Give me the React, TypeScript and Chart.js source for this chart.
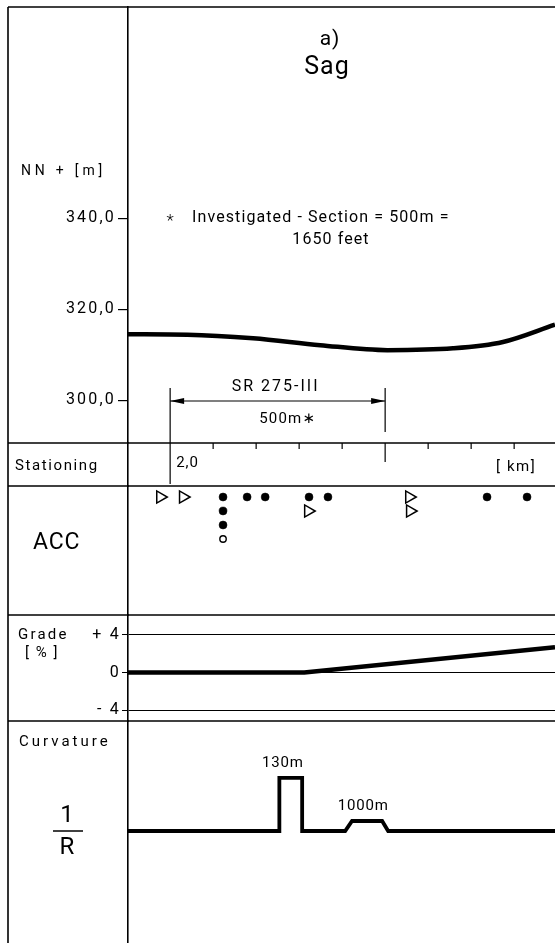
import React, { useEffect, useRef } from 'react';
import { Chart, registerables } from 'chart.js';

Chart.register(...registerables);

// ---- data (stationing in km) ----
const X_MIN = 1.902;
const X_MAX = 2.895;

const PROFILE_KM = [1.902, 2.04, 2.193, 2.349, 2.505, 2.658, 2.774, 2.895];
const PROFILE_ELEV = [314.5, 314.4, 313.6, 312.1, 311.0, 311.4, 312.8, 316.6];
const ELEV_TICKS = [300, 320, 340];

const STATION_TICKS = [2.0, 2.1, 2.2, 2.3, 2.4, 2.5, 2.6, 2.7, 2.8];
const SECTION_KM = [2.0, 2.5];

const ACC_TRI_KM = [1.977, 2.03, 2.321, 2.556, 2.558];
const ACC_TRI_ROW = [1, 1, 2, 1, 2];
const ACC_DOT_KM = [2.123, 2.179, 2.221, 2.323, 2.367, 2.737, 2.83, 2.123, 2.123];
const ACC_DOT_ROW = [1, 1, 1, 1, 1, 1, 1, 2, 3];
const ACC_RING_KM = [2.123];
const ACC_RING_ROW = [4];

const GRADE_KM = [1.902, 2.312, 2.895];
const GRADE_PCT = [0, 0, 2.7];
const GRADE_TICKS = [-4, 0, 4];

const CURV_KM = [1.902, 2.254, 2.254, 2.307, 2.307, 2.407, 2.423, 2.493, 2.507, 2.895];
const CURV_VAL = [0, 0, 8.5, 8.5, 0, 0, 1.6, 1.6, 0, 0];
const CURV_LABELS = ['130m', '1000m'];
const CURV_LABEL_KM = [2.262, 2.449];
const CURV_LABEL_VAL = [8.5, 1.6];

const FAMILY = 'Roboto, "DejaVu Sans", Arial, sans-serif';
const WEIGHT = 400;
const fnt = (size: number, weight = WEIGHT) => `${weight} ${size}px ${FAMILY}`;

const pts = (xs: number[], ys: number[]) => xs.map((x, i) => ({ x, y: ys[i] }));

const setSpacing = (ctx: any, v: string) => {
  try { ctx.letterSpacing = v; } catch (e) {}
};

const framePlugin = {
  id: 'frame',
  beforeDraw(chart: any) {
    setSpacing(chart.ctx, '2.2px');
  },
  afterDraw(chart: any) {
    const ctx = chart.ctx as CanvasRenderingContext2D;
    const s = chart.scales;
    const xs = s.x;
    const W = chart.width;
    const H = chart.height;
    const L = 8;
    const T = chart.chartArea.top;
    ctx.save();
    ctx.strokeStyle = '#000';
    ctx.fillStyle = '#000';
    const line = (x1: number, y1: number, x2: number, y2: number, w = 1.6) => {
      ctx.lineWidth = w;
      ctx.beginPath();
      ctx.moveTo(x1, y1);
      ctx.lineTo(x2, y2);
      ctx.stroke();
    };
    const text = (str: string, x: number, y: number, size: number, align: CanvasTextAlign = 'left', sp = 1.2, weight = WEIGHT) => {
      setSpacing(ctx, sp + 'px');
      ctx.font = fnt(size, weight);
      ctx.textAlign = align;
      ctx.textBaseline = 'middle';
      ctx.fillText(str, x, y);
    };

    // frame
    line(L, T, L, H);
    line(L, T, W, T);
    const dividers = [s.yElev.bottom, s.yStation.bottom, s.yAcc.bottom, s.yGrade.bottom];
    dividers.forEach((y: number) => line(L, y, W, y));

    // titles
    text('a)', 330, 40, 21, 'center', 1);
    text('Sag', 327, 68, 25, 'center', 1);

    // left column labels
    text('NN + [m]', 21, s.yElev.bottom - 272, 14, 'left', 3.8);
    text('Stationing', 15, (s.yStation.top + s.yStation.bottom) / 2 + 2, 15, 'left', 1.6);
    text('ACC', 33, s.yAcc.top + 57, 23, 'left', 0.8);
    const y4 = s.yGrade.getPixelForValue(4);
    text('Grade', 18, y4, 15, 'left', 2.2);
    text('[ % ]', 25, y4 + 18, 15, 'left', 1.5);
    text('Curvature', 19, s.yCurv.top + 21, 15, 'left', 3);
    const yBase = s.yCurv.getPixelForValue(0);
    text('1', 67, yBase - 15, 24, 'center', 0);
    line(53, yBase, 83, yBase, 1.5);
    text('R', 67, yBase + 17, 24, 'center', 0);

    // footnote
    const y340 = s.yElev.getPixelForValue(340);
    text('*', 170, y340 + 4, 17, 'center', 0, 300);
    text('Investigated - Section = 500m =', 192, y340, 16, 'left', 1.1);
    text('1650 feet', 331, y340 + 22, 16, 'center', 1.1);

    // dimension line for investigated section
    const x0 = xs.getPixelForValue(SECTION_KM[0]);
    const x1 = xs.getPixelForValue(SECTION_KM[1]);
    const eb = s.yElev.bottom;
    const yArr = eb - 42;
    line(x0, eb - 55, x0, s.yStation.bottom - 2, 1.2);
    line(x1, eb - 55, x1, eb - 11, 1.2);
    line(x0, yArr, x1, yArr, 1.2);
    const arrow = (xt: number, dir: number) => {
      ctx.beginPath();
      ctx.moveTo(xt, yArr);
      ctx.lineTo(xt + dir * 14, yArr - 3);
      ctx.lineTo(xt + dir * 14, yArr + 3);
      ctx.closePath();
      ctx.fill();
    };
    arrow(x0, 1);
    arrow(x1, -1);
    text('SR 275-III', (x0 + x1) / 2 - 2, eb - 56, 16, 'center', 2);
    text('500m\u2217', (x0 + x1) / 2 + 10, eb - 24, 15, 'center', 1.2);

    // stationing ticks
    const st = s.yStation.top;
    STATION_TICKS.forEach((km, i) => {
      const x = xs.getPixelForValue(km);
      if (i === 0) return;
      if (km === SECTION_KM[1]) line(x, st, x, st + 19, 1.2);
      else line(x, st, x, st + 6, 1.2);
    });
    text('2,0', x0 + 6, st + 20, 15, 'left', 1);
    text('[ km]', 496, st + 24, 15, 'left', 1.6);

    // curvature labels
    CURV_LABELS.forEach((lab, i) => {
      const x = xs.getPixelForValue(CURV_LABEL_KM[i]);
      const y = s.yCurv.getPixelForValue(CURV_LABEL_VAL[i]) - 15;
      text(lab, x, y, 15, 'center', 0.8);
    });
    ctx.restore();
  },
};

const fixWidth = (sc: any) => {
  sc.width = 120;
  sc.paddingTop = 0;
  sc.paddingBottom = 0;
};

export default function App() {
  const ref = useRef<HTMLCanvasElement | null>(null);
  useEffect(() => {
    if (!ref.current) return;
    const black = '#000';
    const tickFont = { family: FAMILY, size: 16, weight: String(WEIGHT) as any };
    const hiddenBand = (weight: number, stackWeight: number, min: number, max: number, reverse = false) => ({
      type: 'linear' as const,
      position: 'left' as const,
      stack: 'panels',
      stackWeight,
      weight,
      min,
      max,
      reverse,
      afterFit: fixWidth,
      ticks: { display: false },
      grid: { display: false },
      border: { display: true, color: black, width: 1.6 },
    });
    const chart = new Chart(ref.current, {
      type: 'line',
      data: {
        datasets: [
          {
            label: 'Profile',
            data: pts(PROFILE_KM, PROFILE_ELEV),
            yAxisID: 'yElev',
            borderColor: black,
            borderWidth: 4.5,
            pointRadius: 0,
            tension: 0.4,
            cubicInterpolationMode: 'monotone',
          },
          {
            label: 'Grade',
            data: pts(GRADE_KM, GRADE_PCT),
            yAxisID: 'yGrade',
            borderColor: black,
            borderWidth: 4.5,
            pointRadius: 0,
            tension: 0,
          },
          {
            label: 'Curvature',
            data: pts(CURV_KM, CURV_VAL),
            yAxisID: 'yCurv',
            borderColor: black,
            borderWidth: 3.8,
            pointRadius: 0,
            tension: 0,
            borderJoinStyle: 'miter',
          },
          {
            type: 'scatter',
            label: 'ACC triangle',
            data: pts(ACC_TRI_KM, ACC_TRI_ROW),
            yAxisID: 'yAcc',
            pointStyle: 'triangle',
            rotation: 90,
            pointRadius: 7,
            backgroundColor: '#fff',
            borderColor: black,
            borderWidth: 1.5,
          } as any,
          {
            type: 'scatter',
            label: 'ACC dot',
            data: pts(ACC_DOT_KM, ACC_DOT_ROW),
            yAxisID: 'yAcc',
            pointStyle: 'circle',
            pointRadius: 4,
            backgroundColor: black,
            borderColor: black,
            borderWidth: 0.5,
          } as any,
          {
            type: 'scatter',
            label: 'ACC ring',
            data: pts(ACC_RING_KM, ACC_RING_ROW),
            yAxisID: 'yAcc',
            pointStyle: 'circle',
            pointRadius: 3.2,
            backgroundColor: '#fff',
            borderColor: black,
            borderWidth: 1.4,
          } as any,
        ],
      },
      options: {
        responsive: false,
        animation: false,
        devicePixelRatio: 1,
        layout: { autoPadding: false, padding: { top: 7, left: 8, right: 0, bottom: 0 } },
        plugins: { legend: { display: false }, tooltip: { enabled: false } },
        scales: {
          x: { type: 'linear', min: X_MIN, max: X_MAX, display: false },
          yElev: {
            type: 'linear',
            position: 'left',
            stack: 'panels',
            stackWeight: 436,
            weight: 5,
            min: 290.6,
            max: 386.4,
            afterFit: fixWidth,
            afterBuildTicks: (sc: any) => { sc.ticks = ELEV_TICKS.map((value) => ({ value })); },
            ticks: {
              color: black,
              font: tickFont,
              padding: 2,
              autoSkip: false,
              callback: (v: any) => Number(v).toFixed(1).replace('.', ','),
            },
            grid: { drawOnChartArea: false, drawTicks: true, tickLength: 10, color: black, lineWidth: 1.2 },
            border: { display: true, color: black, width: 1.6 },
          },
          yStation: hiddenBand(4, 43, 0, 1),
          yAcc: hiddenBand(3, 129, 0.214, 9.43, true),
          yGrade: {
            type: 'linear',
            position: 'left',
            stack: 'panels',
            stackWeight: 106,
            weight: 2,
            min: -5.17,
            max: 6.13,
            afterFit: fixWidth,
            afterBuildTicks: (sc: any) => { sc.ticks = GRADE_TICKS.map((value) => ({ value })); },
            ticks: {
              color: black,
              font: tickFont,
              padding: 1,
              autoSkip: false,
              callback: (v: any) => (v > 0 ? '+ ' + v : v < 0 ? '- ' + Math.abs(v) : String(v)),
            },
            grid: { drawOnChartArea: true, drawTicks: true, tickLength: 6, color: black, lineWidth: 1 },
            border: { display: true, color: black, width: 1.6 },
          },
          yCurv: hiddenBand(1, 222, -17.95, 17.63),
        },
      } as any,
      plugins: [framePlugin],
    });
    return () => chart.destroy();
  }, []);
  return (
    <div style={{ position: 'absolute', left: 0, top: 0, width: 555, height: 943, background: '#fff' }}>
      <canvas ref={ref} width={555} height={943} style={{ display: 'block' }} />
    </div>
  );
}
